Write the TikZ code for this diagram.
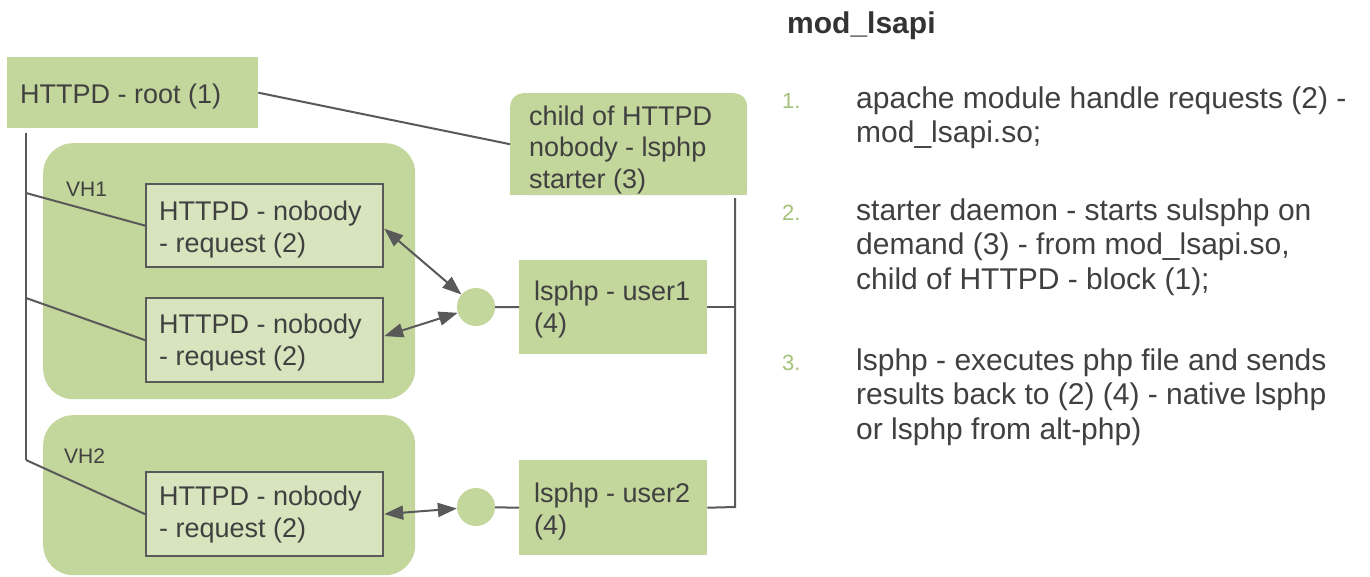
\documentclass[tikz,border=0pt]{standalone}
\usepackage{fontspec}
\setmainfont{Liberation Sans}
\usetikzlibrary{arrows.meta}
\definecolor{boxgreen}{HTML}{C3D69B}
\definecolor{innergreen}{HTML}{D7E4BD}
\definecolor{linegray}{HTML}{595959}
\definecolor{txtgray}{HTML}{404040}
\definecolor{numgreen}{HTML}{A4C279}
\begin{document}
\begin{tikzpicture}[x=1pt,y=-1pt,
  gbox/.style={fill=boxgreen, draw=none, inner sep=0pt, anchor=north west},
  vhbox/.style={fill=boxgreen, draw=none, inner sep=0pt, anchor=north west, rounded corners=30pt},
  ibox/.style={fill=innergreen, draw=linegray, line width=2.2pt, inner sep=0pt, anchor=north west},
  dot/.style={circle, fill=boxgreen, draw=none, inner sep=0pt, minimum size=38pt},
  dtxt/.style={inner sep=0pt, anchor=north west, align=left, text=txtgray, font=\fontsize{27}{32}\selectfont},
  vhlbl/.style={inner sep=0pt, anchor=base west, text=txtgray, font=\fontsize{21}{25}\selectfont},
  ltxt/.style={inner sep=0pt, anchor=north west, align=left, text=txtgray, font=\fontsize{30}{34.5}\selectfont},
  numlbl/.style={inner sep=0pt, anchor=base west, text=numgreen, font=\fontsize{22}{26}\selectfont},
  ttl/.style={inner sep=0pt, anchor=base west, text=black!80, font=\fontsize{30}{34}\selectfont\bfseries},
  conn/.style={draw=linegray, line width=2pt},
  biarrow/.style={draw=linegray, line width=2pt, {Triangle[length=19pt,width=14pt]}-{Triangle[length=19pt,width=14pt]}}
]
\fill[white] (0,0) rectangle (1370,576);
\useasboundingbox (0,0) rectangle (1370,576);

% containers
\node[vhbox, minimum width=372pt, minimum height=256pt] (vh1) at (43,143) {};
\node[vhbox, minimum width=372pt, minimum height=160pt] (vh2) at (43,415) {};
\node[vhlbl] (vh1T) at (66,196) {VH1};
\node[vhlbl] (vh2T) at (64,463) {VH2};

% boxes
\node[gbox, minimum width=251pt, minimum height=71pt] (root) at (7,57) {};
\node[dtxt, anchor=base west] (rootT) at (20,103) {HTTPD - root (1)};

\node[gbox, rounded corners=13pt, minimum width=237pt, minimum height=102pt] (child) at (510,93) {};
\fill[boxgreen] (child.west) rectangle (child.south east);
\node[dtxt, font=\fontsize{27}{31.5}\selectfont] (childT) at (529,105.7) {child of HTTPD\\nobody - lsphp\\starter (3)};

\node[ibox, minimum width=237pt, minimum height=83pt] (b1) at (145,183) {};
\node[dtxt] (b1T) at (159,200.7) {HTTPD - nobody\\- request (2)};
\node[ibox, minimum width=237pt, minimum height=84pt] (b2) at (145,297) {};
\node[dtxt] (b2T) at (159,313.7) {HTTPD - nobody\\- request (2)};
\node[ibox, minimum width=237pt, minimum height=84pt] (b3) at (145,471) {};
\node[dtxt] (b3T) at (159,485.7) {HTTPD - nobody\\- request (2)};

\node[gbox, minimum width=188pt, minimum height=94pt] (u1) at (519,260) {};
\node[dtxt] (u1T) at (534,280.7) {lsphp - user1\\(4)};
\node[gbox, minimum width=188pt, minimum height=95pt] (u2) at (519,460) {};
\node[dtxt] (u2T) at (534,482.7) {lsphp - user2\\(4)};

\node[dot] (c1) at (476,307) {};
\node[dot] (c2) at (476,507) {};

% left bus
\coordinate (bt) at (26,133);
\coordinate (bj1) at (26,193);
\coordinate (bj2) at (26,298);
\coordinate (bb) at (26,460);
\draw[conn] (bt) -- (bb);
\draw[conn] (bj1) -- (b1.west);
\draw[conn] (bj2) -- (b2.west);
\draw[conn] (bb) -- (b3.west);
\draw[conn] (root.east) -- (child.west);

% right bus
\coordinate (rt) at (735,198);
\coordinate (rb) at (735,507);
\draw[conn] (rt) -- (rb) -- (u2.east);
\draw[conn] (u1.east) -- (u1.east -| rt);
\draw[conn] (c1) -- (u1.west);
\draw[conn] (c2) -- (u2.west);

% arrows
\draw[biarrow] ([yshift=-3pt]b1.east) -- (c1);
\draw[biarrow] ([yshift=4pt]b2.east) -- (c1);
\draw[biarrow] (b3.east) -- (c2);

% right text
\node[ttl] (title) at (787,33) {mod\_lsapi};
\node[numlbl] (n1) at (782,108) {1.};
\node[ltxt] (t1) at (856,86.5) {apache module handle requests (2) -\\mod\_lsapi.so;};
\node[numlbl] (n2) at (782,220) {2.};
\node[ltxt] (t2) at (856,198.5) {starter daemon - starts sulsphp on\\demand (3) - from mod\_lsapi.so,\\child of HTTPD - block (1);};
\node[numlbl] (n3) at (782,370) {3.};
\node[ltxt] (t3) at (856,348.5) {lsphp - executes php file and sends\\results back to (2) (4) - native lsphp\\or lsphp from alt-php)};
\end{tikzpicture}
\end{document}
